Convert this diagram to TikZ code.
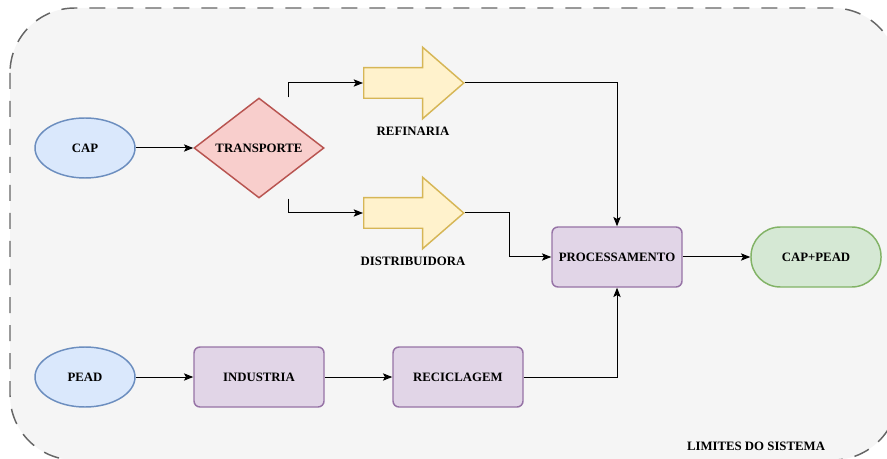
\documentclass[tikz,border=0pt]{standalone}
\usepackage{fontspec}
\setmainfont{Liberation Serif}
\usepackage{xcolor}
\usepackage{tikz}
\usetikzlibrary{shapes.geometric,shapes.arrows,arrows.meta}

\definecolor{bgfill}{HTML}{F5F5F5}
\definecolor{bgline}{HTML}{666666}
\definecolor{bluefill}{HTML}{DAE8FC}
\definecolor{blueline}{HTML}{6C8EBF}
\definecolor{redfill}{HTML}{F8CECC}
\definecolor{redline}{HTML}{B85450}
\definecolor{yellowfill}{HTML}{FFF2CC}
\definecolor{yellowline}{HTML}{D6B656}
\definecolor{purplefill}{HTML}{E1D5E7}
\definecolor{purpleline}{HTML}{9673A6}
\definecolor{greenfill}{HTML}{D5E8D4}
\definecolor{greenline}{HTML}{82B366}

\begin{document}
\begin{tikzpicture}[x=0.75pt,y=0.75pt,yscale=-1,xscale=1,
  font=\fontsize{9.6}{11}\selectfont\bfseries,
  source/.style={ellipse,draw=blueline,fill=bluefill,line width=1.1pt,minimum width=75pt,minimum height=45pt,inner sep=0pt},
  decision/.style={diamond,aspect=1.3,draw=redline,fill=redfill,line width=1.1pt,minimum width=97.5pt,minimum height=75pt,inner sep=0pt},
  blockarrow/.style={single arrow,draw=yellowline,fill=yellowfill,line width=1.1pt,minimum height=75pt,minimum width=52.5pt,inner sep=10.9pt,single arrow head extend=15.4pt,single arrow tip angle=82,single arrow head indent=0pt},
  stage/.style={rectangle,rounded corners=4.5pt,draw=purpleline,fill=purplefill,line width=1.1pt,minimum width=97.5pt,minimum height=45pt,inner sep=0pt},
  product/.style={rectangle,rounded corners=22pt,draw=greenline,fill=greenfill,line width=1.1pt,minimum width=97.5pt,minimum height=45pt,inner sep=0pt},
  flow/.style={draw=black,line width=0.75pt,-{Stealth[length=7pt,width=5.5pt,inset=1.5pt]}}]
\useasboundingbox (0,0) rectangle (887,459);

%System boundary
\draw [bgline,fill=bgfill,line width=1.1pt,dash pattern=on 12pt off 9pt,rounded corners=48.75pt] (10,8) rectangle (898,460);

%Shapes
\node [source] (cap) at (85,148) {CAP};
\node [decision] (transp) at (259,148) {TRANSPORTE};
\node [blockarrow,anchor=tail] (refin) at (363,83) {};
\node [blockarrow,anchor=tail] (distr) at (363,213) {};
\node [stage] (proc) at (617,257) {PROCESSAMENTO};
\node [product] (mix) at (816,257) {CAP+PEAD};
\node [source] (pead) at (85,377) {PEAD};
\node [stage] (indus) at (259,377) {INDUSTRIA};
\node [stage] (recic) at (458,377) {RECICLAGEM};

% Text Node
\node (reflbl) at (413,131) {REFINARIA};
% Text Node
\node (distlbl) at (413,261) {DISTRIBUIDORA};
% Text Node
\node (limlbl) at (756,446) {LIMITES DO SISTEMA};

%Connectors
\draw [flow] (cap) -- (transp);
\draw [flow] (transp.north) ++(29,0) |- (refin.tail);
\draw [flow] (transp.south) ++(29,0) |- (distr.tail);
\draw [flow] (refin.tip) -| (proc.north);
\draw [flow] (distr.tip) -- ++(45,0) |- (proc.west);
\draw [flow] (proc) -- (mix);
\draw [flow] (pead) -- (indus);
\draw [flow] (indus) -- (recic);
\draw [flow] (recic) -| (proc.south);

\end{tikzpicture}
\end{document}
